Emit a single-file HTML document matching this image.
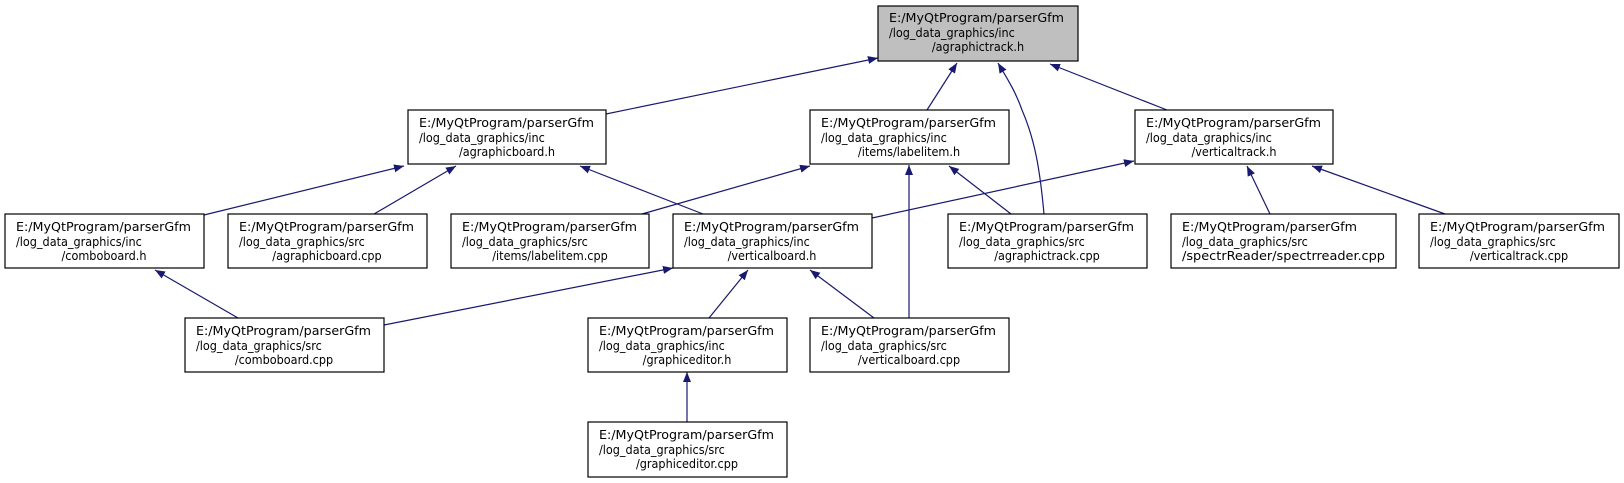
<!DOCTYPE html>
<html><head><meta charset="utf-8"><style>
html,body{margin:0;padding:0;background:#fff;}
svg{display:block;}
text{font-family:"DejaVu Sans Condensed","Liberation Sans Narrow","Liberation Sans",sans-serif;font-size:12.5px;fill:#000;}
</style></head><body>
<svg width="1624" height="483" viewBox="0 0 1624 483" xmlns="http://www.w3.org/2000/svg">
<defs>
<marker id="a" markerWidth="10" markerHeight="8" refX="10" refY="4" orient="auto" markerUnits="userSpaceOnUse">
<path d="M0,0 L10,4 L0,8 Z" fill="#191970"/>
</marker>
</defs>
<g stroke="#191970" stroke-width="1.2" fill="none" marker-end="url(#a)">
<line x1="606" y1="114" x2="878" y2="58"/>
<line x1="927" y1="110" x2="957" y2="63"/>
<path d="M1044,214 C1040,170 1035,140 1022,110 C1015,90 1005,75 998,63"/>
<line x1="1167" y1="110" x2="1050" y2="64"/>
<line x1="204" y1="215" x2="404" y2="166"/>
<line x1="374" y1="214" x2="456" y2="166"/>
<line x1="703" y1="214" x2="580" y2="166"/>
<line x1="642" y1="214" x2="810" y2="166"/>
<line x1="872" y1="218" x2="1134" y2="161"/>
<line x1="1011" y1="214" x2="949" y2="166"/>
<line x1="909" y1="318" x2="909" y2="165"/>
<line x1="1270" y1="214" x2="1247" y2="166"/>
<line x1="1445" y1="214" x2="1312" y2="166"/>
<line x1="238" y1="318" x2="155" y2="270"/>
<line x1="384" y1="325" x2="673" y2="268"/>
<line x1="709" y1="318" x2="748" y2="270"/>
<line x1="874" y1="318" x2="810" y2="270"/>
<line x1="687" y1="422" x2="687" y2="372"/>
</g>
<g stroke="#000" stroke-width="1.2">
<rect x="878" y="6" width="200" height="55" fill="#bfbfbf"/>
<rect x="408" y="110" width="198" height="54" fill="#fff"/>
<rect x="810" y="110" width="199" height="54" fill="#fff"/>
<rect x="1135" y="110" width="198" height="54" fill="#fff"/>
<rect x="5" y="214" width="199" height="54" fill="#fff"/>
<rect x="228" y="214" width="199" height="54" fill="#fff"/>
<rect x="451" y="214" width="198" height="54" fill="#fff"/>
<rect x="673" y="214" width="199" height="54" fill="#fff"/>
<rect x="948" y="214" width="199" height="54" fill="#fff"/>
<rect x="1171" y="214" width="225" height="54" fill="#fff"/>
<rect x="1419" y="214" width="200" height="54" fill="#fff"/>
<rect x="185" y="318" width="199" height="54" fill="#fff"/>
<rect x="588" y="318" width="199" height="54" fill="#fff"/>
<rect x="810" y="318" width="199" height="54" fill="#fff"/>
<rect x="588" y="422" width="199" height="55" fill="#fff"/>
</g>
<g>
<text x="889" y="22" textLength="175" lengthAdjust="spacingAndGlyphs">E:/MyQtProgram/parserGfm</text><text x="889" y="37">/log_data_graphics/inc</text><text x="978" y="51" text-anchor="middle">/agraphictrack.h</text>
<text x="419" y="127" textLength="175" lengthAdjust="spacingAndGlyphs">E:/MyQtProgram/parserGfm</text><text x="419" y="142">/log_data_graphics/inc</text><text x="507" y="156" text-anchor="middle">/agraphicboard.h</text>
<text x="821" y="127" textLength="175" lengthAdjust="spacingAndGlyphs">E:/MyQtProgram/parserGfm</text><text x="821" y="142">/log_data_graphics/inc</text><text x="909" y="156" text-anchor="middle">/items/labelitem.h</text>
<text x="1146" y="127" textLength="175" lengthAdjust="spacingAndGlyphs">E:/MyQtProgram/parserGfm</text><text x="1146" y="142">/log_data_graphics/inc</text><text x="1234" y="156" text-anchor="middle">/verticaltrack.h</text>
<text x="16" y="231" textLength="175" lengthAdjust="spacingAndGlyphs">E:/MyQtProgram/parserGfm</text><text x="16" y="246">/log_data_graphics/inc</text><text x="104" y="260" text-anchor="middle">/comboboard.h</text>
<text x="239" y="231" textLength="175" lengthAdjust="spacingAndGlyphs">E:/MyQtProgram/parserGfm</text><text x="239" y="246">/log_data_graphics/src</text><text x="327" y="260" text-anchor="middle">/agraphicboard.cpp</text>
<text x="462" y="231" textLength="175" lengthAdjust="spacingAndGlyphs">E:/MyQtProgram/parserGfm</text><text x="462" y="246">/log_data_graphics/src</text><text x="550" y="260" text-anchor="middle">/items/labelitem.cpp</text>
<text x="684" y="231" textLength="175" lengthAdjust="spacingAndGlyphs">E:/MyQtProgram/parserGfm</text><text x="684" y="246">/log_data_graphics/inc</text><text x="772" y="260" text-anchor="middle">/verticalboard.h</text>
<text x="959" y="231" textLength="175" lengthAdjust="spacingAndGlyphs">E:/MyQtProgram/parserGfm</text><text x="959" y="246">/log_data_graphics/src</text><text x="1047" y="260" text-anchor="middle">/agraphictrack.cpp</text>
<text x="1182" y="231" textLength="175" lengthAdjust="spacingAndGlyphs">E:/MyQtProgram/parserGfm</text><text x="1182" y="246">/log_data_graphics/src</text><text x="1182" y="260" textLength="203" lengthAdjust="spacingAndGlyphs">/spectrReader/spectrreader.cpp</text>
<text x="1430" y="231" textLength="175" lengthAdjust="spacingAndGlyphs">E:/MyQtProgram/parserGfm</text><text x="1430" y="246">/log_data_graphics/src</text><text x="1519" y="260" text-anchor="middle">/verticaltrack.cpp</text>
<text x="196" y="335" textLength="175" lengthAdjust="spacingAndGlyphs">E:/MyQtProgram/parserGfm</text><text x="196" y="350">/log_data_graphics/src</text><text x="284" y="364" text-anchor="middle">/comboboard.cpp</text>
<text x="599" y="335" textLength="175" lengthAdjust="spacingAndGlyphs">E:/MyQtProgram/parserGfm</text><text x="599" y="350">/log_data_graphics/inc</text><text x="687" y="364" text-anchor="middle">/graphiceditor.h</text>
<text x="821" y="335" textLength="175" lengthAdjust="spacingAndGlyphs">E:/MyQtProgram/parserGfm</text><text x="821" y="350">/log_data_graphics/src</text><text x="909" y="364" text-anchor="middle">/verticalboard.cpp</text>
<text x="599" y="439" textLength="175" lengthAdjust="spacingAndGlyphs">E:/MyQtProgram/parserGfm</text><text x="599" y="454">/log_data_graphics/src</text><text x="687" y="468" text-anchor="middle">/graphiceditor.cpp</text>
</g>
</svg>
</body></html>
